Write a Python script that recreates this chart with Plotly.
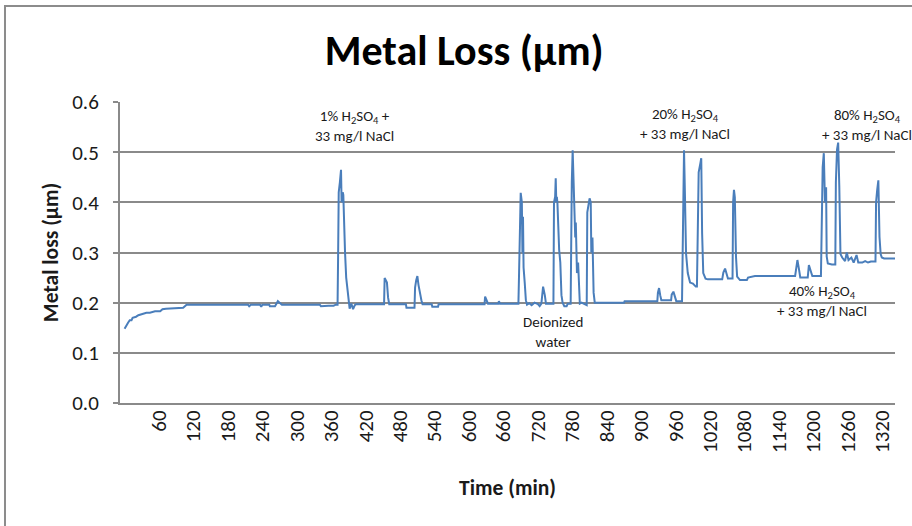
import plotly.graph_objects as go

# Measured metal loss over the exposure sequence
time_min = [
    0, 3, 6, 9, 12, 14, 20, 24, 30, 38, 44, 48, 53, 62, 66, 72, 90, 102, 106, 108,
    215, 217, 220, 236, 238, 240, 252, 253, 262, 264, 267, 270, 274,
    340, 342, 355, 364, 368, 371, 372, 373, 375, 377, 378, 380, 381, 382, 384, 386, 388,
    390, 392, 395, 398, 401, 403,
    452, 453, 455, 457, 459, 461, 490, 491, 505, 506, 508, 510, 512, 514, 517, 519,
    535, 536, 546, 547, 627, 628, 631, 633, 651, 652, 654,
    686, 687, 689, 690, 692, 693, 694, 695, 697, 699, 701, 705, 709, 714, 720, 723, 726,
    728, 729, 732, 734, 747, 748, 750, 751, 752, 753, 754, 756, 757, 759, 761, 763, 766,
    770, 772, 777, 778, 779, 780.5, 782, 783, 785, 786, 788, 790, 792, 793, 796, 805,
    806, 808, 810, 812, 813, 815, 817, 819, 870, 871,
    928, 929, 931, 933, 935, 952, 953, 956, 959, 961, 971,
    972.5, 974.5, 976, 977, 978, 981, 985, 990, 995, 997, 998, 1000, 1003, 1004.5, 1006,
    1008, 1012, 1016, 1041, 1043, 1046, 1049, 1051, 1059, 1060, 1061.5, 1063, 1065, 1067,
    1072, 1084, 1086, 1098, 1168, 1170, 1172, 1175, 1177, 1190, 1192, 1196, 1198,
    1213, 1214, 1216, 1218, 1220, 1222, 1223, 1225, 1232, 1238, 1239, 1241, 1243, 1245,
    1247, 1250, 1255, 1258, 1261, 1266, 1270, 1275, 1278, 1285, 1290, 1295, 1300, 1308,
    1309, 1311, 1313, 1315, 1317, 1319, 1323, 1342,
]
metal_loss_um = [
    0.148, 0.155, 0.160, 0.165, 0.165, 0.170, 0.172, 0.175, 0.177, 0.180, 0.180, 0.182,
    0.183, 0.183, 0.187, 0.188, 0.190, 0.190, 0.194, 0.196,
    0.196, 0.193, 0.196, 0.196, 0.192, 0.196, 0.196, 0.193, 0.193, 0.198, 0.203, 0.200, 0.196,
    0.196, 0.193, 0.194, 0.194, 0.196, 0.196, 0.300, 0.420, 0.440, 0.465, 0.400, 0.420,
    0.415, 0.350, 0.300, 0.250, 0.230,
    0.200, 0.188, 0.198, 0.187, 0.195, 0.197,
    0.197, 0.249, 0.245, 0.240, 0.210, 0.197, 0.197, 0.190, 0.190, 0.230, 0.245, 0.253,
    0.235, 0.220, 0.205, 0.197,
    0.197, 0.192, 0.192, 0.197, 0.197, 0.212, 0.205, 0.198, 0.198, 0.203, 0.198,
    0.198, 0.250, 0.330, 0.419, 0.400, 0.300, 0.371, 0.270, 0.240, 0.205, 0.196, 0.199,
    0.195, 0.200, 0.197, 0.193, 0.198,
    0.218, 0.232, 0.215, 0.198, 0.198, 0.400, 0.411, 0.448, 0.400, 0.411, 0.398, 0.330,
    0.305, 0.280, 0.215, 0.200, 0.193,
    0.193, 0.198, 0.198, 0.350, 0.440, 0.504, 0.450, 0.438, 0.330, 0.360, 0.259, 0.280,
    0.220, 0.198, 0.200, 0.195,
    0.380, 0.400, 0.408, 0.400, 0.300, 0.330, 0.220, 0.200, 0.200, 0.203,
    0.203, 0.220, 0.229, 0.215, 0.205, 0.205, 0.216, 0.222, 0.210, 0.203, 0.203,
    0.400, 0.504, 0.420, 0.350, 0.298, 0.259, 0.240, 0.238, 0.232, 0.232, 0.350, 0.460,
    0.478, 0.488, 0.339,
    0.259, 0.248, 0.2465, 0.2465, 0.260, 0.268, 0.255, 0.248, 0.248, 0.400, 0.425, 0.410,
    0.292, 0.252,
    0.245, 0.245, 0.250, 0.253, 0.253, 0.270, 0.285, 0.265, 0.250, 0.250, 0.275, 0.260, 0.253,
    0.253, 0.360, 0.470, 0.498, 0.400, 0.430, 0.292, 0.278, 0.276, 0.276, 0.440, 0.505,
    0.519, 0.430,
    0.297, 0.290, 0.283, 0.300, 0.285, 0.290, 0.280, 0.295, 0.280, 0.280, 0.283, 0.280,
    0.282, 0.282,
    0.400, 0.425, 0.444, 0.331, 0.297, 0.290, 0.288, 0.288,
]

x_ticks = list(range(60, 1321, 60))
y_ticks = [0.0, 0.1, 0.2, 0.3, 0.4, 0.5, 0.6]

FONT = "Carlito, Lato, Calibri, sans-serif"
GRID = "#8a8a8a"
TXT = "#1a1a1a"

fig = go.Figure()
fig.add_trace(go.Scatter(
    x=time_min, y=metal_loss_um, mode="lines",
    line=dict(color="#4a7ebb", width=2),
    showlegend=False, hoverinfo="skip",
))

# Stage labels for each test solution
notes = [
    (401, 0.552, "1% H<sub>2</sub>SO<sub>4</sub> +<br>33 mg/l NaCl"),
    (976, 0.557, "20% H<sub>2</sub>SO<sub>4</sub><br>+ 33 mg/l NaCl"),
    (746, 0.142, "Deionized<br>water"),
    (1215, 0.203, "40% H<sub>2</sub>SO<sub>4</sub><br>+ 33 mg/l NaCl"),
    (1293, 0.554, "80% H<sub>2</sub>SO<sub>4</sub><br>+ 33 mg/l NaCl"),
]
for x, y, t in notes:
    fig.add_annotation(x=x, y=y, xref="x", yref="y", text=t, showarrow=False,
                       font=dict(family=FONT, size=15, color=TXT),
                       align="center", xanchor="center", yanchor="middle")

# Outer chart frame (left and top edges)
fig.add_shape(type="path", xref="paper", yref="paper",
              path="M -0.1484 -0.41 L -0.1484 1.319 L 1.05 1.319",
              line=dict(color="#8c8c8c", width=2))

fig.update_layout(
    width=912, height=526,
    margin=dict(l=120, r=17, t=102, b=123),
    paper_bgcolor="white", plot_bgcolor="white",
    title=dict(text="<b>Metal Loss (µm)</b>", x=0.509, xanchor="center",
               y=0.905, yanchor="middle",
               font=dict(family=FONT, size=42, color="black")),
    xaxis=dict(
        range=[-8, 1342], tickmode="array", tickvals=x_ticks,
        ticktext=[str(v) for v in x_ticks], tickangle=-90,
        showgrid=False, zeroline=False,
        showline=True, linecolor=GRID, linewidth=2,
        ticks="", ticklabelstandoff=-3,
        tickfont=dict(family=FONT, size=21, color=TXT),
        title=dict(text="<b>Time (min)</b>", standoff=28,
                   font=dict(family=FONT, size=21.5, color=TXT)),
    ),
    yaxis=dict(
        range=[0, 0.6], tickmode="array", tickvals=y_ticks,
        ticktext=[f"{v:.1f}" for v in y_ticks],
        showgrid=True, gridcolor=GRID, gridwidth=2, zeroline=False,
        showline=True, linecolor=GRID, linewidth=2,
        ticks="outside", ticklen=5, tickcolor=GRID, tickwidth=2,
        ticklabelstandoff=10,
        tickfont=dict(family=FONT, size=21, color=TXT),
        title=dict(text="<b>Metal loss (µm)</b>", standoff=8,
                   font=dict(family=FONT, size=21.5, color=TXT)),
    ),
)

fig.write_html("out.html")
